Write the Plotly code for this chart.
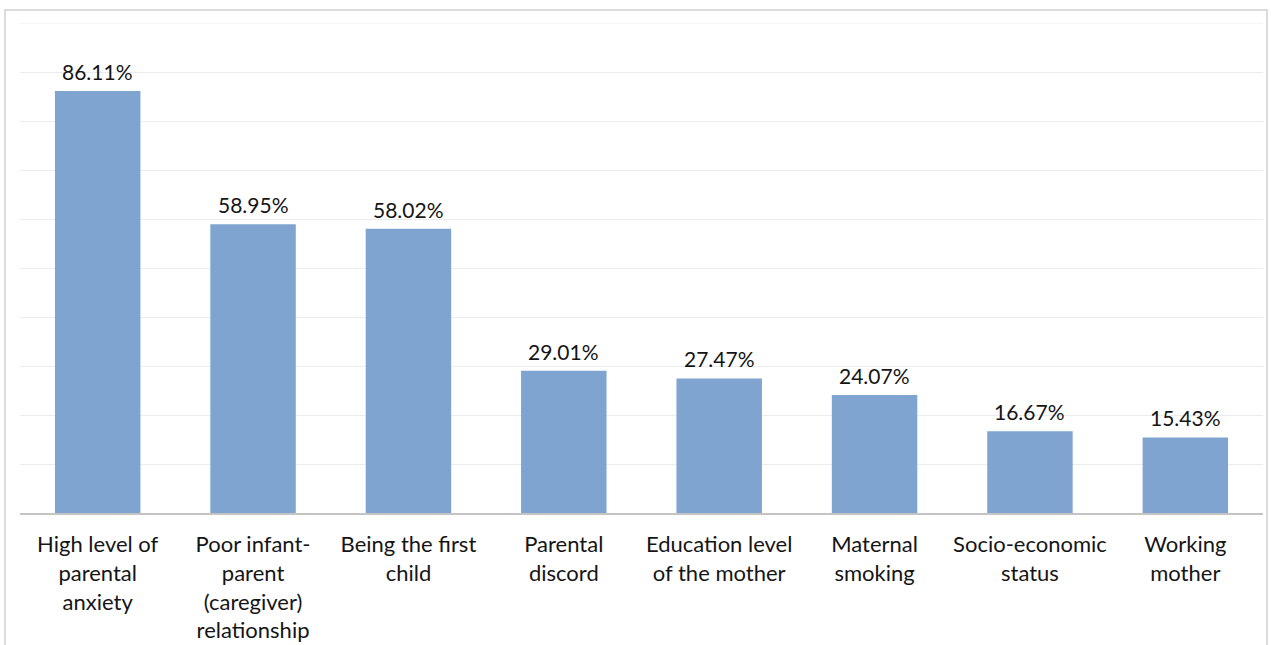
import plotly.graph_objects as go

categories = [
    "High level of<br>parental<br>anxiety",
    "Poor infant-<br>parent<br>(caregiver)<br>relationship",
    "Being the first<br>child",
    "Parental<br>discord",
    "Education level<br>of the mother",
    "Maternal<br>smoking",
    "Socio-economic<br>status",
    "Working<br>mother",
]
values = [86.11, 58.95, 58.02, 29.01, 27.47, 24.07, 16.67, 15.43]
value_labels = [f"{v:.2f}%" for v in values]

FONT = "Lato, 'Open Sans', sans-serif"
TEXT_COLOR = "#151515"

fig = go.Figure(
    go.Bar(
        x=categories,
        y=values,
        marker=dict(color="#7FA4D0", line=dict(width=0)),
        hoverinfo="x+y",
    )
)

# value labels sitting just above each bar
for cat, val, lab in zip(categories, values, value_labels):
    fig.add_annotation(
        x=cat,
        y=val,
        text=lab,
        showarrow=False,
        yanchor="bottom",
        yshift=5,
        font=dict(family=FONT, size=21, color=TEXT_COLOR),
    )

fig.update_layout(
    width=1271,
    height=645,
    margin=dict(l=20, r=8, t=23, b=132),
    paper_bgcolor="white",
    plot_bgcolor="white",
    bargap=0.45,
    showlegend=False,
    font=dict(family=FONT, size=22, color=TEXT_COLOR),
    xaxis=dict(
        showgrid=False,
        showline=True,
        linecolor="#c4c4c4",
        linewidth=2,
        ticks="",
        ticklabelstandoff=11,
        tickfont=dict(family=FONT, size=22, color=TEXT_COLOR),
        tickangle=0,
        automargin=False,
    ),
    yaxis=dict(
        range=[0, 100],
        dtick=10,
        showgrid=True,
        gridcolor="#ececec",
        gridwidth=1,
        showticklabels=False,
        zeroline=False,
        showline=False,
        automargin=False,
    ),
    shapes=[
        # top gridline at 100
        dict(
            type="line",
            xref="paper",
            yref="y",
            x0=0,
            x1=1,
            y0=100,
            y1=100,
            line=dict(color="#ececec", width=1),
            layer="below",
        ),
        # chart frame
        dict(
            type="rect",
            xref="paper",
            yref="paper",
            x0=-0.0121,
            x1=1.0032,
            y0=-0.4,
            y1=1.0265,
            line=dict(color="#dcdcdc", width=2),
            fillcolor="rgba(0,0,0,0)",
            layer="below",
        ),
    ],
)

fig.write_html("out.html")
